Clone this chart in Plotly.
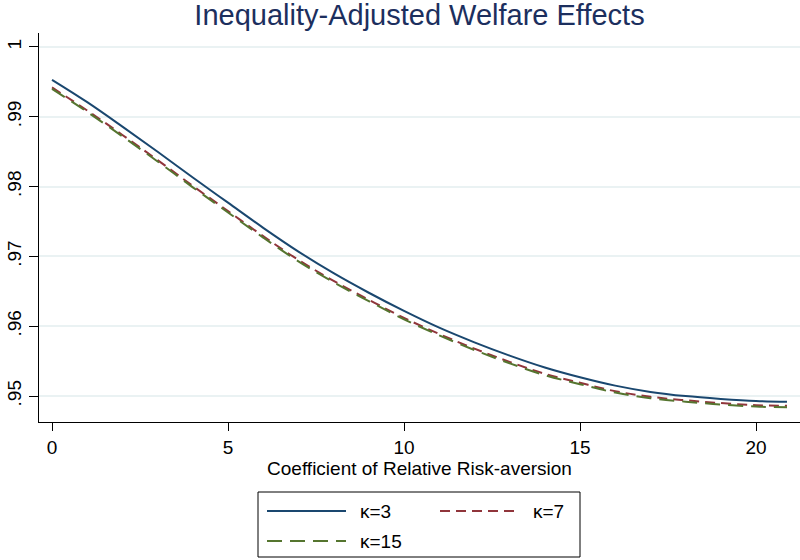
import plotly.graph_objects as go

# ---- data ----
rra = [0, 1, 2, 3, 4, 5, 6, 7, 8, 9, 10, 11, 12, 13, 14, 15, 16, 17, 18, 19, 20, 20.88]
kappa3 = [.9953, .9921, .9886, .9850, .9813, .9777, .9741, .9707, .9676, .9648, .9622,
          .9598, .9577, .9558, .9541, .9527, .9515, .9506, .9500, .9496, .9493, .9492]
kappa7 = [.9942, .9909, .9874, .9838, .9801, .9765, .9729, .9695, .9665, .9638, .9612,
          .9589, .9568, .9549, .9532, .9519, .9507, .9499, .9494, .9490, .9487, .9486]
kappa15 = [.9940, .9907, .9872, .9836, .9799, .9763, .9727, .9693, .9663, .9636, .9610,
           .9587, .9566, .9547, .9530, .9517, .9505, .9497, .9492, .9488, .9485, .9484]

series_names = ["κ=3", "κ=7", "κ=15"]
x_ticks = [0, 5, 10, 15, 20]
y_tickvals = [0.95, 0.96, 0.97, 0.98, 0.99, 1.0]
y_ticktext = [".95", ".96", ".97", ".98", ".99", "1"]

# ---- styles ----
FONT = "Liberation Sans, Arial, Helvetica, sans-serif"
colors = ["#1a476f", "#90353b", "#55752f"]
dashes = ["solid", "10px,6px", "15px,8px"]

W, H = 800, 560
L, R, T, B = 39, 0, 33, 138
pw, ph = W - L - R, H - T - B

fig = go.Figure()
for ys, name, c, d in zip([kappa3, kappa7, kappa15], series_names, colors, dashes):
    fig.add_trace(go.Scatter(x=rra, y=ys, mode="lines", name=name,
                             line=dict(color=c, width=2, dash=d, shape="spline"),
                             showlegend=False))

# ---- custom legend (Stata-style box below the plot) ----
def px(xp):
    return (xp - L) / pw

def py(yp):
    return (H - B - yp) / ph

shapes = [dict(type="rect", xref="paper", yref="paper",
               x0=px(258), x1=px(580), y0=py(557), y1=py(492),
               line=dict(color="black", width=1), fillcolor="white", layer="above")]
annotations = []
legend_pos = [(267, 511), (440, 511), (267, 541)]
for (lx, ly), name, c, d in zip(legend_pos, series_names, colors, dashes):
    shapes.append(dict(type="line", xref="paper", yref="paper",
                       x0=px(lx), x1=px(lx + 79), y0=py(ly), y1=py(ly),
                       line=dict(color=c, width=2, dash=d)))
    annotations.append(dict(xref="paper", yref="paper", x=px(lx + 91), y=py(ly),
                            text=name, showarrow=False, xanchor="left", yanchor="middle",
                            font=dict(family=FONT, size=19, color="black")))

fig.update_layout(
    width=W, height=H,
    margin=dict(l=L, r=R, t=T, b=B, pad=0),
    paper_bgcolor="white", plot_bgcolor="white",
    title=dict(text="Inequality-Adjusted Welfare Effects", x=0.5, xref="paper",
               y=1 - 15 / H, yref="container", yanchor="middle", xanchor="center",
               font=dict(family=FONT, size=29, color="#1c2f5e")),
    xaxis=dict(range=[-0.37, 21.25], tickvals=x_ticks, ticks="outside", ticklen=8,
               tickwidth=1, tickcolor="black", showline=True, linecolor="black",
               linewidth=1, showgrid=False, zeroline=False,
               tickfont=dict(family=FONT, size=19, color="black"),
               title=dict(text="Coefficient of Relative Risk-aversion", standoff=4,
                          font=dict(family=FONT, size=19, color="black"))),
    yaxis=dict(range=[0.94629, 1.002], tickvals=y_tickvals, ticktext=y_ticktext,
               ticks="outside", ticklen=9, tickwidth=1, tickcolor="black",
               tickangle=-90, showline=True, linecolor="black", linewidth=1,
               showgrid=True, gridcolor="#eaf2f3", gridwidth=1.5, zeroline=False,
               tickfont=dict(family=FONT, size=19, color="black")),
    shapes=shapes, annotations=annotations, showlegend=False,
)

fig.write_html("out.html")
